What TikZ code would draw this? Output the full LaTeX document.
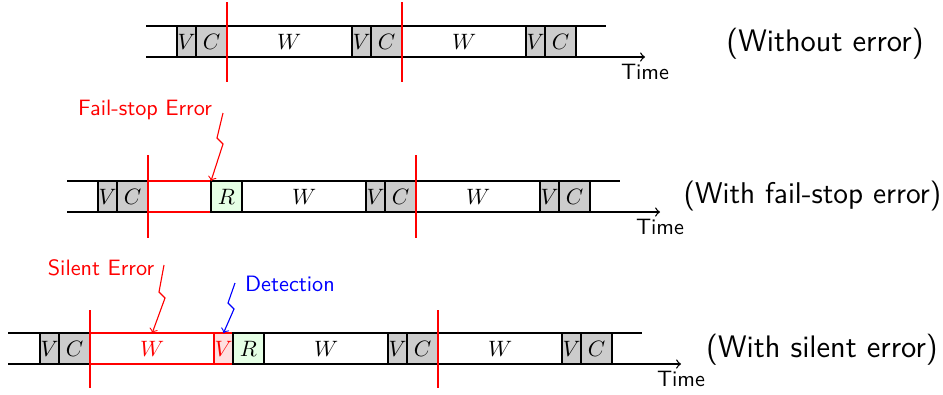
\documentclass[tikz,border=0pt]{standalone}
\begin{document}
\begin{tikzpicture}[x=0.45pt,y=-0.45pt,
 box/.style={draw, line width=0.6pt, minimum height=13.95pt, inner sep=0pt, outer sep=0pt, anchor=west},
 vbox/.style={box, fill=gray!40, minimum width=8.55pt},
 cbox/.style={box, fill=gray!40, minimum width=13.95pt},
 wbox/.style={box, fill=white, minimum width=56pt},
 rbox/.style={box, fill=green!10, minimum width=13.95pt},
 tline/.style={line width=0.6pt},
 cut/.style={red, line width=1.2pt},
 lbl/.style={font=\sffamily},
 case/.style={font=\sffamily\fontsize{14}{17}\selectfont},
 timelbl/.style={font=\sffamily, anchor=north, inner sep=3pt},
 bolt/.style={->, line width=0.5pt}
]
\useasboundingbox (0,0) rectangle (943,394);

% ---------------- Row 1 ----------------
\coordinate (s1t) at (146,26); \coordinate (e1t) at (606,26);
\coordinate (s1b) at (146,57); \coordinate (e1b) at (645,57);
\draw[tline] (s1t) -- (e1t);
\draw[tline,->] (s1b) -- (e1b);
\node[vbox] (v11) at (177,41.5) {$V$};
\node[cbox] (c11) at (196,41.5) {$C$};
\node[wbox] (w11) at (227,41.5) {$W$};
\node[vbox] (v12) at (352,41.5) {$V$};
\node[cbox] (c12) at (371,41.5) {$C$};
\node[wbox] (w12) at (402,41.5) {$W$};
\node[vbox] (v13) at (526,41.5) {$V$};
\node[cbox] (c13) at (545,41.5) {$C$};
\coordinate (k11a) at (227,2); \coordinate (k11b) at (227,82);
\coordinate (k12a) at (402,2); \coordinate (k12b) at (402,82);
\draw[cut] (k11a) -- (k11b);
\draw[cut] (k12a) -- (k12b);
\node[timelbl] (t1) at (e1b) {Time};
\node[case] (case1) at (825,44) {(Without error)};

% ---------------- Row 2 ----------------
\coordinate (s2t) at (67,181); \coordinate (e2t) at (620,181);
\coordinate (s2b) at (67,212); \coordinate (e2b) at (660,212);
\draw[tline] (s2t) -- (e2t);
\draw[tline,->] (s2b) -- (e2b);
\node[vbox] (v21) at (98,196.5) {$V$};
\node[cbox] (c21) at (117,196.5) {$C$};
\node[box, draw=red, minimum width=28.35pt] (x21) at (148,196.5) {};
\node[rbox] (r21) at (211,196.5) {$R$};
\node[wbox] (w21) at (242,196.5) {$W$};
\node[vbox] (v22) at (366,196.5) {$V$};
\node[cbox] (c22) at (385,196.5) {$C$};
\node[wbox] (w22) at (416,196.5) {$W$};
\node[vbox] (v23) at (540,196.5) {$V$};
\node[cbox] (c23) at (559,196.5) {$C$};
\coordinate (k21a) at (148,155); \coordinate (k21b) at (148,238);
\coordinate (k22a) at (416,155); \coordinate (k22b) at (416,238);
\draw[cut] (k21a) -- (k21b);
\draw[cut] (k22a) -- (k22b);
\node[timelbl] (t2) at (e2b) {Time};
\node[case, font=\sffamily\fontsize{13.5}{16}\selectfont] (case2) at (812.5,196) {(With fail-stop error)};
\node[lbl, text=red] (fs) at (145,110) {Fail-stop Error};
\coordinate (fsa) at (223,113);
\draw[bolt, red] (fsa) -- (217,138) -- (223,144) -- (r21.north west);

% ---------------- Row 3 ----------------
\coordinate (s3t) at (8,333); \coordinate (e3t) at (642,333);
\coordinate (s3b) at (8,364); \coordinate (e3b) at (681,364);
\draw[tline] (s3t) -- (e3t);
\draw[tline,->] (s3b) -- (e3b);
\node[vbox] (v31) at (40,348.5) {$V$};
\node[cbox] (c31) at (59,348.5) {$C$};
\node[wbox, draw=red, text=red] (w31) at (90,348.5) {$W$};
\node[vbox, draw=red, fill=red!12, text=red] (v3e) at (214,348.5) {$V$};
\node[rbox] (r31) at (233,348.5) {$R$};
\node[wbox] (w32) at (264,348.5) {$W$};
\node[vbox] (v32) at (388,348.5) {$V$};
\node[cbox] (c32) at (407,348.5) {$C$};
\node[wbox] (w33) at (438,348.5) {$W$};
\node[vbox] (v33) at (562,348.5) {$V$};
\node[cbox] (c33) at (581,348.5) {$C$};
\coordinate (k31a) at (90,310); \coordinate (k31b) at (90,388);
\coordinate (k32a) at (438,310); \coordinate (k32b) at (438,388);
\draw[cut] (k31a) -- (k31b);
\draw[cut] (k32a) -- (k32b);
\node[timelbl] (t3) at (e3b) {Time};
\node[case] (case3) at (822,350) {(With silent error)};
\node[lbl, text=red] (se) at (101,268) {Silent Error};
\coordinate (sea) at (164,265);
\draw[bolt, red] (sea) -- (159,292) -- (165,298) -- (w31.north);
\node[lbl, text=blue] (det) at (290,284) {Detection};
\coordinate (dea) at (235,283);
\draw[bolt, blue] (dea) -- (228,303) -- (234,309) -- (v3e.north);
\end{tikzpicture}
\end{document}
